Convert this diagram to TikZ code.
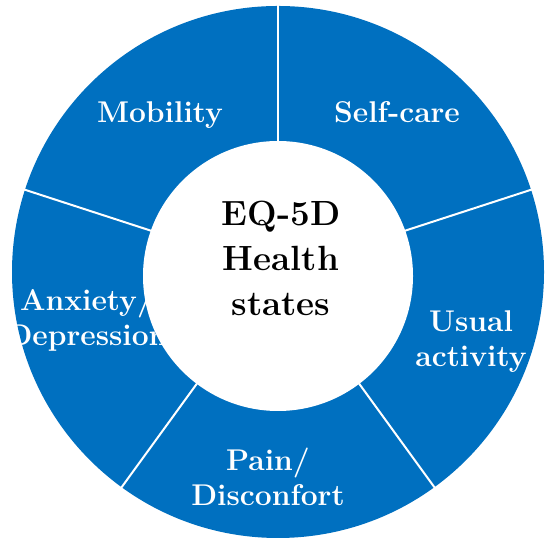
\documentclass[tikz,border=0pt]{standalone}
\usepackage{tikz}
\usepackage{xcolor}
\usetikzlibrary{positioning}

\definecolor{ringblue}{RGB}{0,112,192}
\tikzset{
    segtext/.style={text=white, font=\bfseries\fontsize{15}{17.5}\selectfont, align=center, anchor=base},
    hubtext/.style={text=black, font=\bfseries\fontsize{17.5}{22.5}\selectfont, align=center, anchor=base},
    divider/.style={draw=white, line width=1pt}
}

\begin{document}
\begin{tikzpicture}[x=0.5pt, y=0.5pt]
                        \useasboundingbox (0, 0) rectangle (545, 544);
                        \fill[white] (0, 0) rectangle (545, 544);

                        \coordinate (ctr) at (278, 272);
                        \coordinate (hubctr) at (278, 268);
                        \fill[ringblue] (ctr) circle[radius=266];

                        \node[segtext] (mob) at (160, 421) {Mobility};
                        \node[segtext] (self) at (397, 421) {Self-care};
                        \node[segtext] (usual) at (471, 177) {Usual\\activity};
                        \node[segtext] (pain) at (268, 38) {Pain/\\Disconfort};
                        \node[segtext] (anx) at (87, 198) {Anxiety/\\Depression};

                        \foreach \a in {90, 18, -54, -126, 162}
                            \draw[divider] (ctr) ++(\a:120) -- ++(\a:150);

                        \fill[white] (hubctr) circle[radius=135];
                        \node[hubtext] (hub) at (281, 228) {EQ-5D\\Health\\states};
                    \end{tikzpicture}
\end{document}
